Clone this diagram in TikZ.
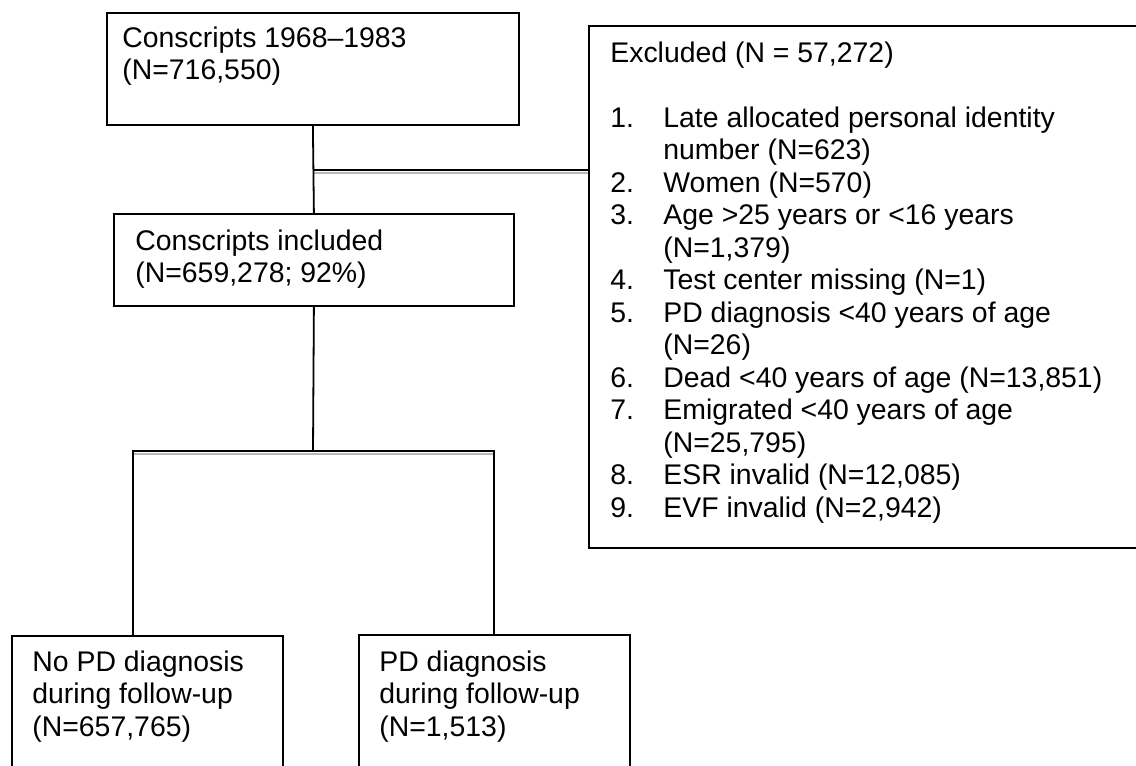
\documentclass[tikz,border=0pt]{standalone}
\usepackage{fontspec}
\setmainfont{Liberation Sans}
\newcommand{\fsz}{\fontsize{14.2pt}{16.25pt}\selectfont}
\newcommand{\fl}{\rule{0pt}{16pt}}
\newcommand{\itm}[1]{\makebox[26.5pt][l]{#1}}
\newcommand{\ind}{\hspace*{26.5pt}}
\begin{document}
\begin{tikzpicture}[x=0.5pt,y=-0.5pt]
\tikzset{
  box/.style={draw=black, line width=0.9pt, anchor=north west, inner sep=0pt},
  txt/.style={anchor=north west, inner sep=0pt, align=left, font=\fsz},
  conn/.style={draw=black, line width=0.9pt},
  shade/.style={draw=black!28, line width=1pt}
}
\useasboundingbox (0,0) rectangle (1136,766);
\clip (0,0) rectangle (1136,766);
% boxes
\node[box, minimum width=206pt, minimum height=56pt] (c1) at (106,12) {};
\node[box, minimum width=200pt, minimum height=46pt] (c2) at (113,213) {};
\node[box, minimum width=279pt, minimum height=261pt] (ex) at (588,25) {};
\node[box, minimum width=135.5pt, minimum height=85pt] (b1) at (11,635) {};
\node[box, minimum width=135.5pt, minimum height=85pt] (b2) at (358,634) {};
% texts
\node[txt] (t1) at (122,15) {\fl Conscripts 1968–1983\\(N=716,550)};
\node[txt] (t2) at (135,218) {\fl Conscripts included\\(N=659,278; 92\%)};
\node[txt] (t3) at (610,30) {\fl Excluded (N = 57,272)\\[16.25pt]
\itm{1.}Late allocated personal identity\\
\ind number (N=623)\\
\itm{2.}Women (N=570)\\
\itm{3.}Age >25 years or <16 years\\
\ind (N=1,379)\\
\itm{4.}Test center missing (N=1)\\
\itm{5.}PD diagnosis <40 years of age\\
\ind (N=26)\\
\itm{6.}Dead <40 years of age (N=13,851)\\
\itm{7.}Emigrated <40 years of age\\
\ind (N=25,795)\\
\itm{8.}ESR invalid (N=12,085)\\
\itm{9.}EVF invalid (N=2,942)};
\node[txt] (t4) at (32,639) {\fl No PD diagnosis\\during follow-up\\(N=657,765)};
\node[txt] (t5) at (379,639) {\fl PD diagnosis\\during follow-up\\(N=1,513)};
% connectors
\coordinate (j1) at (313,170);
\coordinate (j2) at (313,451);
\coordinate (jl) at (133,451);
\coordinate (jr) at (494,451);
\draw[shade] ([yshift=-1.6pt]j1) -- ([yshift=-1.6pt]j1 -| ex.west);
\draw[shade] ([yshift=-1.6pt]jl) -- ([yshift=-1.6pt]jr);
\draw[conn] (c1.south) -- (c2.north);
\draw[conn] (j1) -- (j1 -| ex.west);
\draw[conn] (c2.south) -- (j2);
\draw[conn] (jl |- b1.north) -- (jl) -- (jr) -- (jr |- b2.north);
\end{tikzpicture}
\end{document}
